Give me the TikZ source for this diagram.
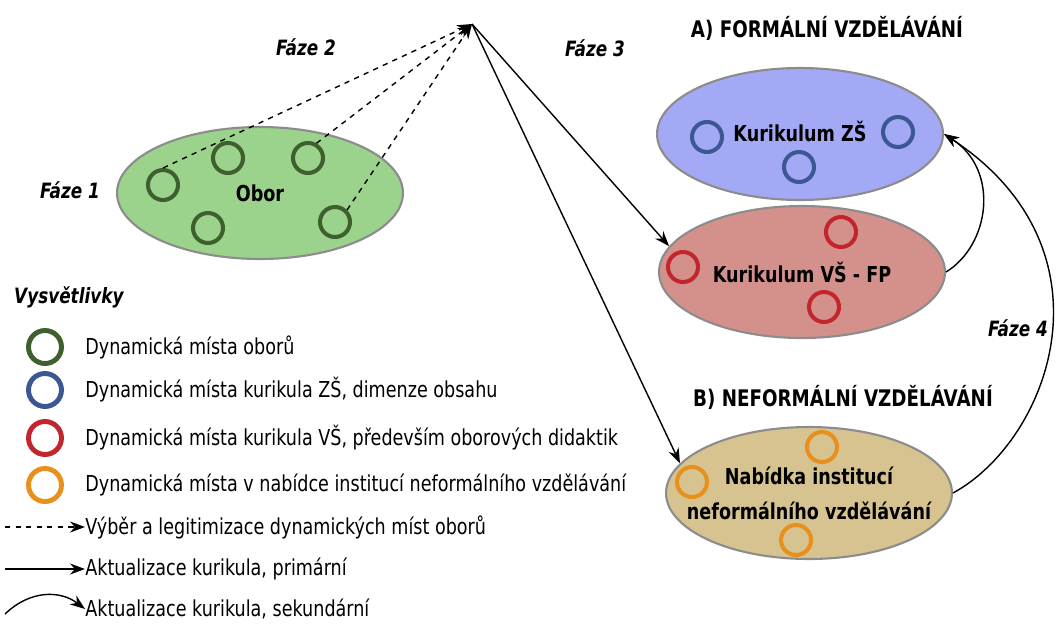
\documentclass[tikz,border=0pt]{standalone}
\usepackage{fontspec}
\setmainfont[FakeStretch=0.8]{DejaVu Sans}
\usepackage{tikz}
\usetikzlibrary{shapes.geometric, arrows.meta, positioning}
\definecolor{oborfill}{HTML}{9CD38C}
\definecolor{zsfill}{HTML}{A4A9F6}
\definecolor{vsfill}{HTML}{D4918C}
\definecolor{nabfill}{HTML}{D6C38F}
\definecolor{oborring}{HTML}{3E5F2E}
\definecolor{zsring}{HTML}{3B5893}
\definecolor{vsring}{HTML}{C2262C}
\definecolor{nabring}{HTML}{E8901C}
\definecolor{rimgray}{HTML}{8C8C8C}

\begin{document}
\begin{tikzpicture}[
  x=0.02cm, y=-0.02cm,
  font=\fontsize{12.5}{14}\selectfont,
  field/.style={
    ellipse, draw=rimgray, fill=#1, line width=1.2pt,
    minimum width=5.72cm, minimum height=2.64cm, inner sep=0pt
  },
  fieldtext/.style={
    align=center, inner sep=0pt, font=\bfseries\fontsize{12.5}{20}\selectfont
  },
  dyn/.style={
    circle, draw=#1, line width=2.3pt, minimum size=0.6cm, inner sep=0pt
  },
  keyring/.style={
    circle, draw=#1, line width=2.8pt, minimum size=0.66cm, inner sep=0pt
  },
  select/.style={
    -{Stealth[length=3mm, width=2.2mm]}, dashed, line width=0.8pt
  },
  primary/.style={
    -{Stealth[length=3mm, width=2.2mm]}, line width=0.8pt
  },
  phase/.style={font=\bfseries\itshape\fontsize{12}{14}\selectfont},
  heading/.style={font=\bfseries\fontsize{13}{15}\selectfont},
  keytext/.style={anchor=west, inner sep=0pt}
]
\useasboundingbox (0,0) rectangle (1058,623);

% Obor
\node[field=oborfill] (obor) at (260,193) {};
\node[fieldtext] (obortext) at (obor) {Obor};
\node[dyn=oborring] (o1) at (163,185) {};
\node[dyn=oborring] (o2) at (228,158) {};
\node[dyn=oborring] (o3) at (308,158) {};
\node[dyn=oborring] (o4) at (208,228) {};
\node[dyn=oborring] (o5) at (335,222) {};
\coordinate (apex) at (472,24);

% Formalni vzdelavani
\node[heading] (formal) at (827,28) {A) FORMÁLNÍ VZDĚLÁVÁNÍ};
\node[field=zsfill] (zs) at (800,134) {};
\node[fieldtext] (zstext) at (800,131) {Kurikulum ZŠ};
\node[dyn=zsring] (z1) at (707,137) {};
\node[dyn=zsring] (z2) at (898,132) {};
\node[dyn=zsring] (z3) at (799,167) {};

\node[field=vsfill] (vs) at (802,272) {};
\node[fieldtext] (vstext) at (vs) {Kurikulum VŠ - FP};
\node[dyn=vsring] (v1) at (683,267) {};
\node[dyn=vsring] (v2) at (841,232) {};
\node[dyn=vsring] (v3) at (824,307) {};

% Neformalni vzdelavani
\node[heading] (neformal) at (843,397) {B) NEFORMÁLNÍ VZDĚLÁVÁNÍ};
\node[field=nabfill] (nab) at (809,493) {};
\node[fieldtext] (nabtext) at (nab) {Nabídka institucí\\neformálního vzdělávání};
\node[dyn=nabring] (n1) at (822,447) {};
\node[dyn=nabring] (n2) at (692,482) {};
\node[dyn=nabring] (n3) at (796,540) {};

% Faze
\node[phase] (f1) at (70,190) {Fáze 1};
\node[phase] (f2) at (306,47) {Fáze 2};
\node[phase] (f3) at (595,48) {Fáze 3};
\node[phase] (f4) at (1018,328) {Fáze 4};

% Connections
\draw[select] (o1.north) -- (apex);
\draw[select] (o3.60) -- (apex);
\draw[select] (o5.45) -- (apex);
\draw[primary] (apex) -- (vs.169);
\draw[primary] (apex) -- (nab.167);
\draw[primary] (vs.east) .. controls (990,245) and (1000,170) .. (zs.east);
\draw[primary] (nab.east) .. controls (1050,440) and (1120,250) .. (zs.east);

% Vysvetlivky
\node[phase, anchor=west] (legend) at (8,297) {Vysvětlivky};
\node[keyring=oborring] (k1) at (45,347) {};
\node[keytext] (t1) at (85,347) {Dynamická místa oborů};
\node[keyring=zsring] (k2) at (45,390) {};
\node[keytext] (t2) at (85,390) {Dynamická místa kurikula ZŠ, dimenze obsahu};
\node[keyring=vsring] (k3) at (45,438) {};
\node[keytext] (t3) at (85,438) {Dynamická místa kurikula VŠ, především oborových didaktik};
\node[keyring=nabring] (k4) at (45,485) {};
\node[keytext] (t4) at (85,485) {Dynamická místa v nabídce institucí neformálního vzdělávání};

\coordinate (s0) at (5,527);
\node[keytext] (t5) at (85,527) {Výběr a legitimizace dynamických míst oborů};
\draw[select, line width=0.6pt] (s0) -- (t5.west);
\coordinate (p0) at (5,569);
\node[keytext] (t6) at (85,569) {Aktualizace kurikula, primární};
\draw[primary] (p0) -- (t6.west);
\coordinate (c0) at (5,614);
\node[keytext] (t7) at (85,609) {Aktualizace kurikula, sekundární};
\draw[primary] (c0) .. controls (30,590) and (60,590) .. (t7.west);

\end{tikzpicture}
\end{document}
